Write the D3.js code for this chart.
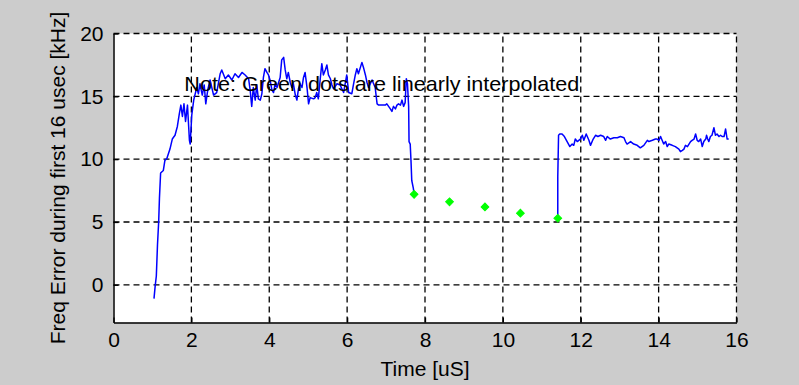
<!DOCTYPE html>
<html>
<head>
<meta charset="utf-8">
<script src="https://cdn.jsdelivr.net/npm/d3@7"></script>
<style>
  html, body { margin: 0; padding: 0; background: #cccccc; }
  svg { display: block; }
  text { font-family: "Liberation Sans", Arial, sans-serif; fill: #000; }
</style>
</head>
<body>
<svg id="chart" width="799" height="385"></svg>
<script>
// Measured frequency error, first burst (before the dropout)
const seg1Time = [1.04,1.07,1.10,1.13,1.16,1.18,1.21,1.28,1.32,1.37,1.45,1.51,1.58,1.64,1.69,1.73,1.77,1.81,1.85,1.90,
  1.95,1.97,2.01,2.06,2.09,2.14,2.18,2.22,2.28,2.33,2.37,2.42,2.48,2.57,2.65,2.74,2.78,2.87,2.95,3.04,
  3.12,3.21,3.30,3.38,3.47,3.51,3.55,3.59,3.64,3.68,3.72,3.77,3.81,3.85,3.89,3.94,3.98,4.02,4.07,4.11,
  4.15,4.20,4.28,4.32,4.37,4.41,4.45,4.49,4.54,4.58,4.62,4.67,4.71,4.75,4.79,4.84,4.88,4.92,4.97,5.01,
  5.05,5.14,5.18,5.22,5.26,5.31,5.35,5.39,5.44,5.48,5.52,5.57,5.61,5.65,5.74,5.82,5.91,5.99,6.04,6.12,
  6.16,6.21,6.25,6.29,6.38,6.42,6.47,6.51,6.55,6.64,6.72,6.77,6.81,6.89,6.98,7.02,7.11,7.15,7.19,7.24,
  7.28,7.32,7.37,7.41,7.45,7.49,7.52,7.55,7.58,7.59,7.62,7.64,7.66,7.70,7.72];
const seg1Freq = [-1.1,-0.1,0.7,3.2,5.0,6.9,8.9,9.1,9.9,10.05,10.8,11.6,11.9,12.6,13.6,14.3,13.4,14.4,13.0,14.3,
  11.5,11.2,13.5,14.7,15.1,15.7,15.2,16.0,15.1,15.9,14.4,15.5,16.3,15.1,15.3,16.8,17.1,16.4,16.7,16.3,
  16.8,16.5,16.9,16.7,16.4,15.5,14.2,15.7,14.7,15.9,14.8,14.7,15.2,16.5,17.2,16.9,16.7,16.3,15.5,15.3,
  16.0,15.7,16.5,17.9,18.1,17.1,16.4,16.9,16.1,15.7,16.0,15.1,14.7,15.6,16.0,15.7,16.5,16.9,15.7,14.4,
  14.9,14.8,14.9,15.3,14.8,16.4,17.6,16.7,17.1,17.5,16.7,16.4,15.9,15.6,16.0,15.9,15.3,16.7,15.3,15.2,
  15.9,16.7,17.2,16.8,17.7,17.3,16.7,16.1,15.7,16.3,15.7,14.4,14.3,14.3,14.3,14.4,14.0,13.8,14.2,14.0,
  14.3,14.4,14.3,14.7,14.2,14.5,16.4,16.0,14.2,11.4,11.2,9.9,8.3,7.7,7.2];

// Measured frequency error, second burst (after the dropout)
const seg2Time = [11.41,11.41,11.43,11.46,11.52,11.58,11.65,11.72,11.78,11.82,11.86,11.91,11.99,12.04,12.08,12.14,12.21,12.25,12.32,12.38,
  12.44,12.51,12.59,12.64,12.68,12.76,12.85,12.94,13.02,13.11,13.15,13.19,13.28,13.36,13.45,13.53,13.62,13.71,13.75,13.84,
  13.92,13.96,14.01,14.05,14.09,14.13,14.18,14.22,14.26,14.35,14.43,14.52,14.56,14.61,14.65,14.69,14.74,14.78,14.82,14.86,
  14.91,14.95,14.99,15.03,15.08,15.12,15.16,15.21,15.23,15.26,15.29,15.33,15.37,15.42,15.46,15.50,15.55,15.59,15.63,15.68,
  15.72,15.76,15.80];
const seg2Freq = [5.3,8.6,11.9,12.0,12.0,11.8,11.4,11.0,11.2,11.1,11.6,11.4,11.6,11.9,11.5,12.0,11.5,11.1,11.6,11.9,
  11.8,11.9,11.8,11.5,11.8,11.6,11.7,11.7,11.8,11.7,11.4,11.2,11.4,11.2,11.1,10.9,11.1,11.5,11.4,11.5,
  11.6,11.6,11.5,11.8,11.5,11.2,11.4,11.0,11.2,11.1,11.0,10.8,10.6,10.7,10.8,11.1,11.0,11.2,11.4,11.5,
  11.6,12.0,11.5,11.4,11.6,11.0,11.4,11.6,11.9,11.6,11.4,11.8,11.9,12.5,11.9,12.0,11.8,11.9,11.8,11.8,
  12.4,11.6,11.6];

// Linearly interpolated points across the dropout
const dotTime = [7.72, 8.63, 9.54, 10.45, 11.41];
const dotFreq = [7.2, 6.6, 6.2, 5.7, 5.3];

const xTicks = [0, 2, 4, 6, 8, 10, 12, 14, 16];
const yTicks = [0, 5, 10, 15, 20];

const xLabel = "Time [uS]";
const yLabel = "Freq Error during first 16 usec [kHz]";
const noteText = "Note: Green dots are linearly interpolated";

const svg = d3.select("#chart");
const W = 799, H = 385;
const plotLeft = 113.5, plotRight = 736.5, plotTop = 33.5, plotBottom = 322.5;

svg.append("rect").attr("width", W).attr("height", H).attr("fill", "#cccccc");

const x = d3.scaleLinear().domain([0, 16]).range([plotLeft, plotRight]);
const y = d3.scaleLinear().domain([-3, 20]).range([plotBottom, plotTop]);

// plot area
svg.append("rect")
  .attr("x", plotLeft).attr("y", plotTop)
  .attr("width", plotRight - plotLeft).attr("height", plotBottom - plotTop)
  .attr("fill", "#ffffff");

// dashed grid
const grid = svg.append("g")
  .attr("stroke", "#000").attr("stroke-width", 1.3)
  .attr("stroke-dasharray", "6,4").attr("fill", "none");
grid.selectAll(".gx").data(xTicks.filter(d => d > 0)).join("line")
  .attr("x1", d => x(d)).attr("x2", d => x(d))
  .attr("y1", plotBottom).attr("y2", plotTop);
grid.selectAll(".gy").data(yTicks).join("line")
  .attr("y1", d => y(d)).attr("y2", d => y(d))
  .attr("x1", plotLeft).attr("x2", plotRight);

// data traces
const line = d3.line().x(d => x(d[0])).y(d => y(d[1]));
const seg1 = seg1Time.map((t, i) => [t, seg1Freq[i]]);
const seg2 = seg2Time.map((t, i) => [t, seg2Freq[i]]);
svg.append("g").selectAll("path").data([seg1, seg2]).join("path")
  .attr("d", line)
  .attr("fill", "none").attr("stroke", "#0000ff")
  .attr("stroke-width", 1.5).attr("stroke-linejoin", "round");

// interpolated markers
svg.append("g").selectAll("path").data(dotTime.map((t, i) => [t, dotFreq[i]])).join("path")
  .attr("d", d3.symbol().type(d3.symbolSquare).size(30))
  .attr("transform", d => `translate(${x(d[0])},${y(d[1])}) rotate(45)`)
  .attr("fill", "#00ff00").attr("stroke", "#00ff00").attr("stroke-width", 1);

// axes
const xAxis = d3.axisBottom(x).tickValues(xTicks).tickFormat(d3.format("d"))
  .tickSize(-5).tickSizeOuter(0).tickPadding(10);
const yAxis = d3.axisLeft(y).tickValues(yTicks).tickFormat(d3.format("d"))
  .tickSize(-5).tickSizeOuter(0).tickPadding(10);

const gx = svg.append("g").attr("transform", `translate(0,${plotBottom})`).call(xAxis);
const gy = svg.append("g").attr("transform", `translate(${plotLeft},0)`).call(yAxis);
[gx, gy].forEach(g => {
  g.select(".domain").attr("stroke", "#000").attr("stroke-width", 1.5);
  g.selectAll(".tick line").attr("stroke", "#000").attr("stroke-width", 1.3);
  g.selectAll(".tick text").attr("font-size", 21)
    .attr("font-family", "'Liberation Sans', Arial, sans-serif").attr("fill", "#000");
});

// axis titles
svg.append("text")
  .attr("x", (plotLeft + plotRight) / 2).attr("y", 376)
  .attr("text-anchor", "middle").attr("font-size", 21)
  .text(xLabel);
svg.append("text")
  .attr("transform", `translate(65,${(plotTop + plotBottom) / 2}) rotate(-90)`)
  .attr("text-anchor", "middle").attr("font-size", 21)
  .text(yLabel);

// annotation
svg.append("text")
  .attr("x", x(1.82)).attr("y", y(15.45))
  .attr("font-size", 21)
  .attr("textLength", 395).attr("lengthAdjust", "spacingAndGlyphs")
  .text(noteText);
</script>
</body>
</html>
